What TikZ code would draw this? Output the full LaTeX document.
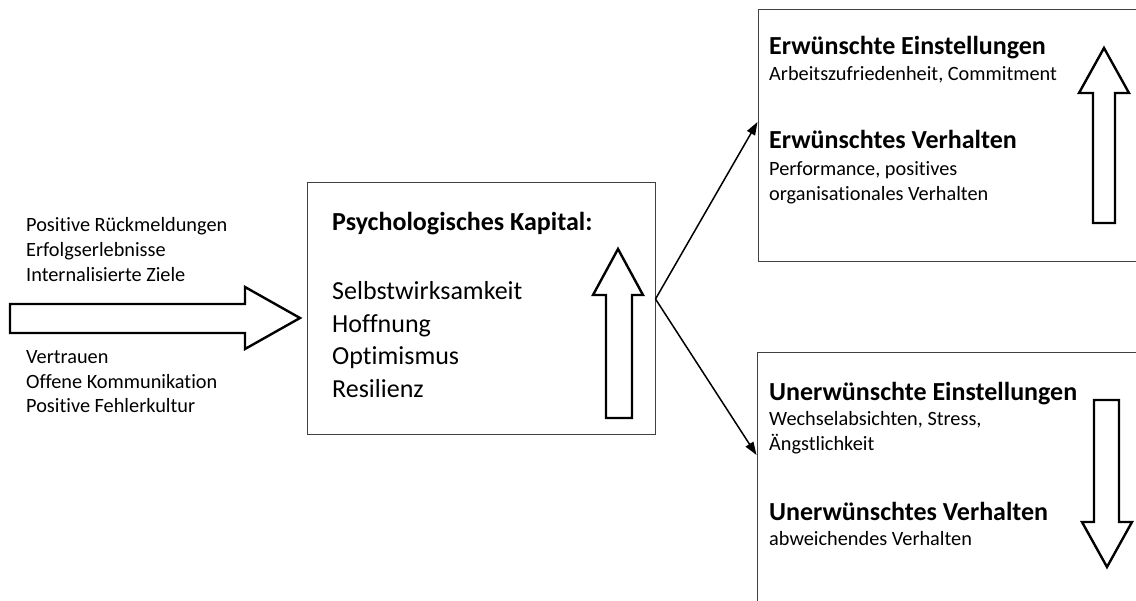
\documentclass[tikz,border=0pt]{standalone}
\usepackage{fontspec}
\setmainfont[Ligatures=NoCommon]{Carlito}
\usetikzlibrary{arrows.meta}
\begin{document}
\begin{tikzpicture}[x=1pt,y=-1pt,
  frame/.style={draw=black!75, line width=1pt, inner sep=0pt},
  blockarrow/.style={draw=black, line width=2.4pt, line join=miter, fill=white},
  link/.style={draw=black, line width=1.5pt, -{Triangle[length=13pt,width=9pt]}},
  small/.style={font=\fontsize{20.3}{24}\selectfont, anchor=base west, inner sep=0pt},
  large/.style={font=\fontsize{26}{31}\selectfont, anchor=base west, inner sep=0pt},
  head/.style={font=\bfseries\fontsize{26}{31}\selectfont, anchor=base west, inner sep=0pt}]

\fill[white] (0,0) rectangle (1136,601);
\useasboundingbox (0,0) rectangle (1136,601);

% boxes
\node[frame, minimum width=348pt, minimum height=252pt] (cbox) at (481,309) {};
\node[frame, minimum width=392pt, minimum height=252pt] (tbox) at (954,136) {};
\node[frame, minimum width=393pt, minimum height=287pt] (bbox) at (953.5,496.5) {};

% influences on the left
\node[small] (l1) at (26,232) {Positive Rückmeldungen};
\node[small] (l2) at (26,257) {Erfolgserlebnisse};
\node[small] (l3) at (26,282) {Internalisierte Ziele};
\node[small] (l4) at (26,364) {Vertrauen};
\node[small] (l5) at (26,389) {Offene Kommunikation};
\node[small] (l6) at (26,413) {Positive Fehlerkultur};

% big arrow into the central box
\draw[blockarrow] (10,304) -- (245,304) -- (245,287) -- (300,318)
  -- (245,349) -- (245,333) -- (10,333) -- cycle;

% central box content
\node[head] (ch) at (332,231) {Psychologisches Kapital:};
\node[large] (c1) at (332,300) {Selbstwirksamkeit};
\node[large] (c2) at (332,332.5) {Hoffnung};
\node[large] (c3) at (332,365) {Optimismus};
\node[large] (c4) at (332,397.5) {Resilienz};
\draw[blockarrow] (606,418) -- (606,295) -- (593,295) -- (618,249)
  -- (643,295) -- (632,295) -- (632,418) -- cycle;

% desired outcomes
\node[head] (t1) at (769,55) {Erwünschte Einstellungen};
\node[small] (t2) at (769,81) {Arbeitszufriedenheit, Commitment};
\node[head] (t3) at (769,149) {Erwünschtes Verhalten};
\node[small] (t4) at (769,176) {Performance, positives};
\node[small] (t5) at (769,201) {organisationales Verhalten};
\draw[blockarrow] (1093,223) -- (1093,93) -- (1079,93) -- (1104,48)
  -- (1129,93) -- (1115,93) -- (1115,223) -- cycle;

% undesired outcomes
\node[head] (b1) at (769,401) {Unerwünschte Einstellungen};
\node[small] (b2) at (769,426) {Wechselabsichten, Stress,};
\node[small] (b3) at (769,451) {Ängstlichkeit};
\node[head] (b4) at (769,521) {Unerwünschtes Verhalten};
\node[small] (b5) at (769,546) {abweichendes Verhalten};
\draw[blockarrow] (1094,400) -- (1094,522) -- (1082,522) -- (1107,567)
  -- (1132,522) -- (1119,522) -- (1119,400) -- cycle;

% links from the central box
\draw[link] ([yshift=10pt]cbox.east) -- ([yshift=14pt]tbox.west);
\draw[link] ([yshift=10pt]cbox.east) -- ([yshift=41.5pt]bbox.west);
\end{tikzpicture}
\end{document}
